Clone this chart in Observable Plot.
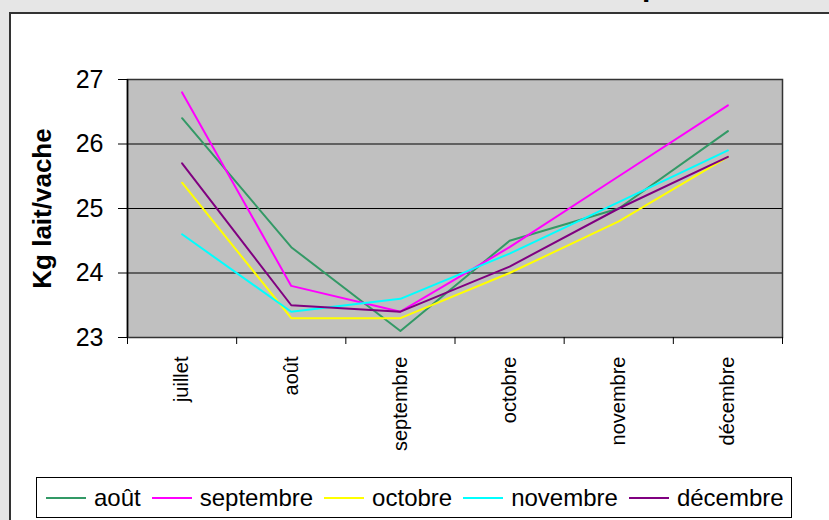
<!DOCTYPE html>
<html>
<head>
<meta charset="utf-8">
<script src="https://cdn.jsdelivr.net/npm/d3@7"></script>
<script src="https://cdn.jsdelivr.net/npm/@observablehq/plot@0.6"></script>
<style>
  html, body { margin: 0; padding: 0; }
  body { width: 829px; height: 520px; overflow: hidden; background: #e6e6e6; position: relative;
         font-family: "Liberation Sans", Arial, sans-serif; }
  #box { position: absolute; left: 9px; top: 12px; width: 900px; height: 600px; background: #fff;
         border-left: 2px solid #333; border-top: 2px solid #333; box-sizing: border-box; }
  #chart { position: absolute; left: 0; top: 0; }
  #ttl { position: absolute; left: 642px; top: -29px; font-size: 30px; font-weight: bold; line-height: 30px; color: #000; }
  #legend { position: absolute; left: 36px; top: 477px; width: 756px; height: 41px; box-sizing: border-box;
            border: 1px solid #000; background: #fff; display: flex; align-items: center; padding-left: 9px;
            font-size: 24px; color: #000; }
  .item { display: flex; align-items: center; margin-right: 11px; }
  .sw { width: 40px; height: 2px; margin-right: 8px; }
</style>
</head>
<body>
<div id="ttl">p</div>
<div id="box"></div>
<div id="chart"></div>
<div id="legend"></div>
<script>
const months = ["juillet", "août", "septembre", "octobre", "novembre", "décembre"];
const seriesNames = ["août", "septembre", "octobre", "novembre", "décembre"];
const seriesColors = ["#339966", "#ff00ff", "#ffff00", "#00ffff", "#800080"];
const aout      = [26.4, 24.4, 23.1, 24.5, 25.0, 26.2];
const septembre = [26.8, 23.8, 23.4, 24.4, 25.5, 26.6];
const octobre   = [25.4, 23.3, 23.3, 24.0, 24.8, 25.8];
const novembre  = [24.6, 23.4, 23.6, 24.3, 25.1, 25.9];
const decembre  = [25.7, 23.5, 23.4, 24.1, 25.0, 25.8];
const yTicks = [23, 24, 25, 26, 27];
const yTitle = "Kg lait/vache";

const seriesValues = [aout, septembre, octobre, novembre, decembre];
const rows = [];
seriesNames.forEach((s, k) => {
  seriesValues[k].forEach((v, i) => rows.push({s, i: i + 0.5, v}));
});

const font = "'Liberation Sans', Arial, sans-serif";
const chart = Plot.plot({
  width: 829,
  height: 470,
  marginLeft: 127,
  marginRight: 47,
  marginTop: 79,
  marginBottom: 133,
  style: {background: "transparent", fontFamily: font, color: "#000", overflow: "visible"},
  x: {domain: [0, months.length], axis: null, label: null},
  y: {domain: [23, 27], axis: null, label: null},
  color: {domain: seriesNames, range: seriesColors},
  marks: [
    Plot.frame({fill: "#c0c0c0"}),
    Plot.gridY(yTicks.slice(1, -1), {stroke: "#000", strokeOpacity: 1, strokeWidth: 1}),
    Plot.line(rows, {x: "i", y: "v", z: "s", stroke: "s", strokeWidth: 2}),
    Plot.frame({stroke: "#333", strokeWidth: 1.5}),
    Plot.axisY({ticks: yTicks, tickSize: 9, tickPadding: 15, fontSize: 25, tickFormat: d => String(d),
                stroke: "#000", label: null}),
    Plot.ruleX([0], {stroke: "#000", strokeWidth: 1.5}),
    Plot.axisX({ticks: d3.range(months.length + 1), tickSize: 7, tickFormat: () => "", stroke: "#000", label: null}),
    Plot.axisX({ticks: months.map((m, i) => i + 0.5), tickFormat: v => months[Math.round(v - 0.5)],
                tickSize: 0, tickRotate: -90, tickPadding: 19, fontSize: 20, label: null}),
    Plot.text([yTitle], {frameAnchor: "left", textAnchor: "middle", rotate: -90, dx: -85, text: d => d,
                         fontSize: 26, fontWeight: "bold", fill: "#000"})
  ]
});
document.getElementById("chart").appendChild(chart);

const legend = document.getElementById("legend");
seriesNames.forEach((s, k) => {
  const item = document.createElement("div");
  item.className = "item";
  const sw = document.createElement("div");
  sw.className = "sw";
  sw.style.background = seriesColors[k];
  const t = document.createElement("span");
  t.textContent = s;
  item.appendChild(sw);
  item.appendChild(t);
  legend.appendChild(item);
});
</script>
</body>
</html>
